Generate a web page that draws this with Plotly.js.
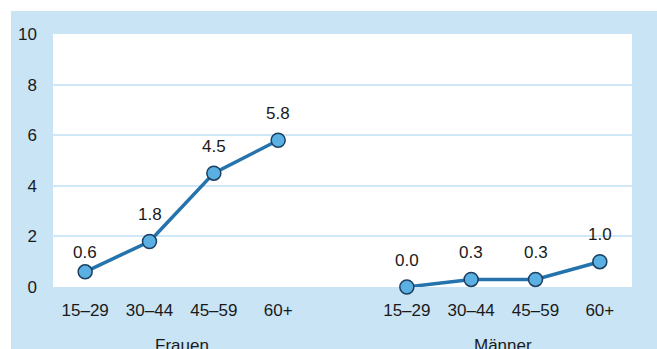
<!DOCTYPE html>
<html>
<head>
<meta charset="utf-8">
<script src="https://cdn.plot.ly/plotly-3.0.1.min.js"></script>
<style>
  html, body { margin: 0; padding: 0; background: #ffffff; overflow: hidden; }
  #chart { position: absolute; left: 11px; top: 11px; width: 646px; height: 338px; }
</style>
</head>
<body>
<div id="chart"></div>
<script>
const groups = ["Frauen", "Männer"];
const ageGroups = ["15–29", "30–44", "45–59", "60+"];
const frauenValues = [0.6, 1.8, 4.5, 5.8];
const maennerValues = [0.0, 0.3, 0.3, 1.0];
const yTicks = [0, 2, 4, 6, 8, 10];

const seriesValues = [frauenValues, maennerValues];
const groupStride = ageGroups.length + 1;
const font = "Liberation Sans, Arial, Helvetica, sans-serif";
const fs = 17;

const traces = [];
const tickvals = [];
const ticktext = [];
const annotations = [];
seriesValues.forEach((vals, g) => {
  const xs = ageGroups.map((_, i) => g * groupStride + i);
  xs.forEach((x, i) => { tickvals.push(x); ticktext.push(ageGroups[i]); });
  traces.push({
    type: "scatter",
    mode: "lines+markers",
    x: xs,
    y: vals,
    cliponaxis: false,
    line: { color: "#2473ad", width: 3.5 },
    marker: { size: 14, color: "#5aafe3", line: { color: "#1c3f60", width: 1.5 } },
    hoverinfo: "skip",
    showlegend: false
  });
  vals.forEach((v, i) => {
    annotations.push({
      x: xs[i], y: v, xref: "x", yref: "y",
      text: v.toFixed(1),
      showarrow: false,
      yanchor: "middle",
      yshift: (g === 0 && i === 0) ? 19 : 27,
      font: { family: font, size: fs, color: "#1a1a1a" }
    });
  });
  annotations.push({
    x: (xs[0] + xs[xs.length - 1]) / 2, y: 0, xref: "x", yref: "paper",
    text: groups[g],
    showarrow: false,
    yanchor: "top",
    yshift: -47,
    font: { family: font, size: fs, color: "#1a1a1a" }
  });
});

const layout = {
  width: 646, height: 338,
  margin: { l: 42, r: 25, t: 23, b: 62, pad: 0 },
  paper_bgcolor: "#c9e4f5",
  plot_bgcolor: "#ffffff",
  font: { family: font, size: fs, color: "#1a1a1a" },
  xaxis: {
    range: [-0.5, 2 * groupStride - 1.5],
    tickvals: tickvals, ticktext: ticktext,
    showgrid: false, zeroline: false, showline: false,
    ticks: "", ticklabelstandoff: 11,
    tickfont: { family: font, size: fs, color: "#1a1a1a" },
    fixedrange: true
  },
  yaxis: {
    range: [0, 10],
    tickvals: yTicks,
    showgrid: true, gridcolor: "#cfe7f6", gridwidth: 2,
    zeroline: false, showline: false,
    ticks: "", ticklabelstandoff: 15,
    tickfont: { family: font, size: fs, color: "#1a1a1a" },
    fixedrange: true
  },
  annotations: annotations
};

Plotly.newPlot("chart", traces, layout, { staticPlot: true, displayModeBar: false });
</script>
</body>
</html>
